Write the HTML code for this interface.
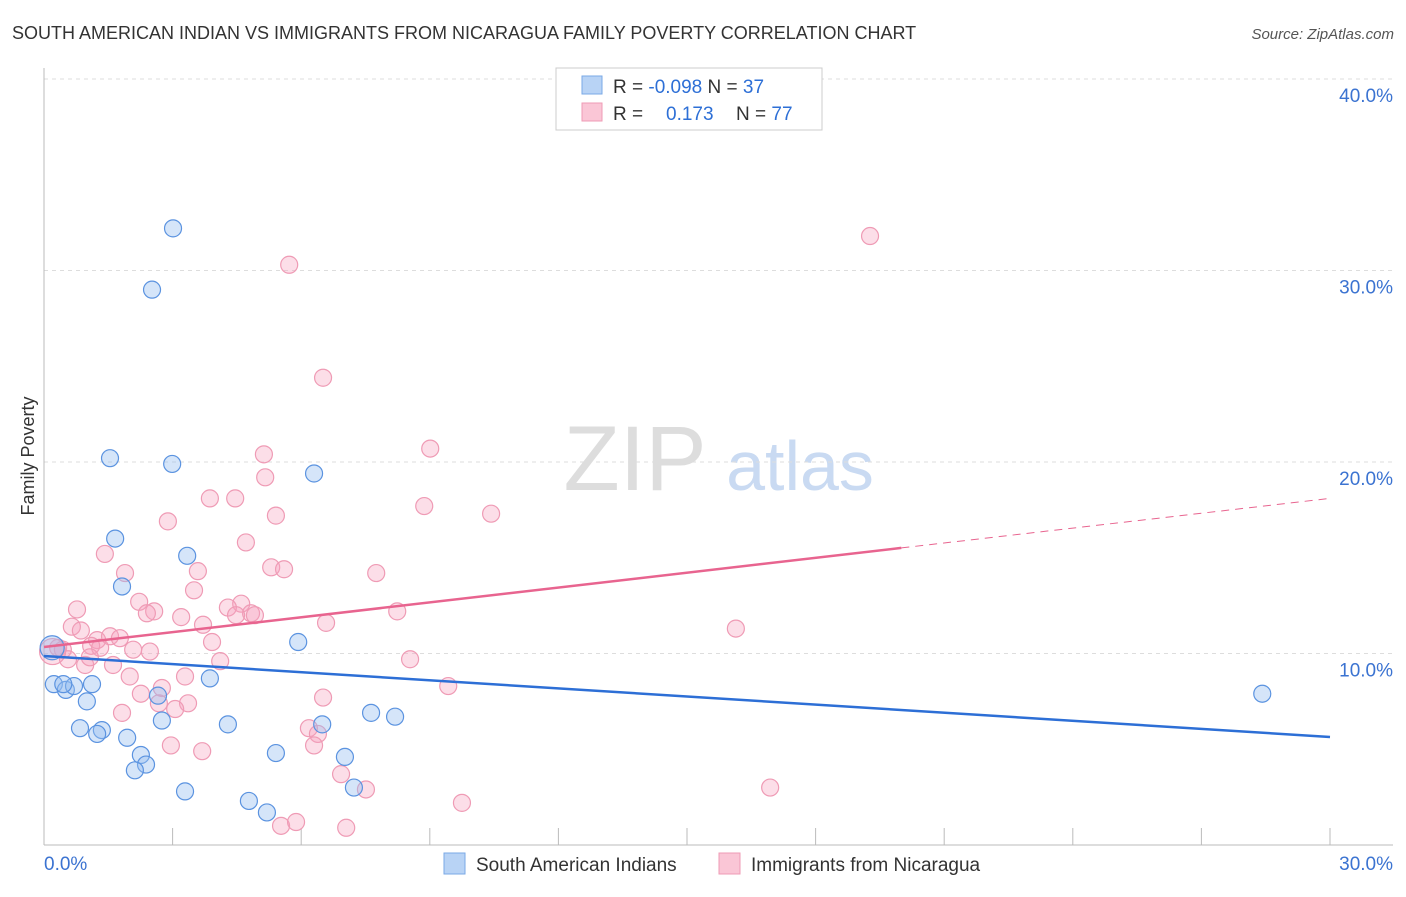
<!DOCTYPE html>
<html><head><meta charset="utf-8"><style>
body{margin:0;background:#fff;font-family:"Liberation Sans",sans-serif;}
svg text{font-family:"Liberation Sans",sans-serif;}
</style></head><body>
<svg id="chart" width="1406" height="892" xmlns="http://www.w3.org/2000/svg">
<text x="12" y="39" font-size="18" fill="#333">SOUTH AMERICAN INDIAN VS IMMIGRANTS FROM NICARAGUA FAMILY POVERTY CORRELATION CHART</text>
<text x="1394" y="39" font-size="15" fill="#555" font-style="italic" text-anchor="end">Source: ZipAtlas.com</text>
<text x="34" y="456" font-size="18" fill="#333" transform="rotate(-90 34 456)" text-anchor="middle">Family Poverty</text>
<g><text x="635" y="490" font-size="92" fill="#ddd" font-family="Liberation Serif" text-anchor="middle">ZIP</text><text x="800" y="490" font-size="70" fill="#c9daf2" text-anchor="middle">atlas</text></g>
<g id="grid"></g><g id="axes"></g><g id="marks"></g>
<g>
<rect x="556" y="68" width="266" height="62" fill="#fff" stroke="#ccc"/>
<rect x="582" y="76" width="20" height="18" fill="#b8d3f5" stroke="#7aa8e6"/>
<rect x="582" y="103" width="20" height="18" fill="#fac6d6" stroke="#ef9bb5"/>
<text x="613" y="93" font-size="19" fill="#333">R = <tspan fill="#2d6fd6">-0.098</tspan>   N = <tspan fill="#2d6fd6">37</tspan></text>
<text x="613" y="120" font-size="19" fill="#333">R =   <tspan fill="#2d6fd6" x="666">0.173</tspan><tspan x="736">N = </tspan><tspan fill="#2d6fd6">77</tspan></text>
</g>
<g>
<rect x="444" y="853" width="21" height="21" fill="#b8d3f5" stroke="#7aa8e6"/>
<text x="476" y="871" font-size="19" fill="#333">South American Indians</text>
<rect x="719" y="853" width="21" height="21" fill="#fac6d6" stroke="#ef9bb5"/>
<text x="751" y="871" font-size="19" fill="#333">Immigrants from Nicaragua</text>
</g>
</svg>
<script>
const yTicks=[10,20,30,40];
const yTickLabels=["10.0%","20.0%","30.0%","40.0%"];
const xLabels=["0.0%","30.0%"];
const blueX=[3.01,2.52,1.54,2.99,6.30,1.66,3.34,1.82,5.93,0.19,0.23,0.51,0.70,1.12,1.0,3.87,2.66,2.75,4.29,6.49,7.63,8.19,0.84,1.35,1.24,1.94,2.26,2.38,2.12,5.41,7.02,3.29,4.78,5.20,7.23,28.42,0.45];
const blueY=[32.2,29.0,20.2,19.9,19.4,16.0,15.1,13.5,10.6,10.3,8.4,8.1,8.3,8.4,7.5,8.7,7.8,6.5,6.3,6.3,6.9,6.7,6.1,6.0,5.8,5.6,4.7,4.2,3.9,4.8,4.6,2.8,2.3,1.7,3.0,7.9,8.4];
const pinkX=[19.27,5.72,6.51,9.01,5.13,5.16,3.87,4.46,8.87,10.43,5.41,2.89,4.71,1.42,5.30,5.60,1.89,3.59,7.75,3.50,2.22,4.60,0.77,2.57,2.40,4.29,4.83,4.92,4.48,8.24,3.20,6.58,0.65,0.86,3.71,16.14,1.24,1.54,1.77,3.92,1.10,1.31,0.33,0.44,2.08,2.47,0.56,0.96,1.07,1.61,4.11,8.54,2.0,3.29,2.75,9.43,2.26,6.51,3.36,3.06,1.82,2.68,6.18,6.39,6.30,2.96,3.69,6.93,7.51,9.75,16.94,5.53,5.88,7.05,0.2];
const pinkY=[31.8,30.3,24.4,20.7,20.4,19.2,18.1,18.1,17.7,17.3,17.2,16.9,15.8,15.2,14.5,14.4,14.2,14.3,14.2,13.3,12.7,12.6,12.3,12.2,12.1,12.4,12.1,12.0,12.0,12.2,11.9,11.6,11.4,11.2,11.5,11.3,10.7,10.9,10.8,10.6,10.4,10.3,10.3,10.2,10.2,10.1,9.7,9.4,9.8,9.4,9.6,9.7,8.8,8.8,8.2,8.3,7.9,7.7,7.4,7.1,6.9,7.4,6.1,5.8,5.2,5.2,4.9,3.7,2.9,2.2,3.0,1.0,1.2,0.9,10.1];
const blueTrend=[9.87,5.64];
const pinkTrend=[10.34,18.1];
const X0=44,X1=1330,Y0=845,PY=19.15;
const sx=v=>X0+(v/30)*(X1-X0);
const sy=v=>Y0-v*PY;
const NS="http://www.w3.org/2000/svg";
function mk(tag,attrs,parent){const e=document.createElementNS(NS,tag);for(const k in attrs)e.setAttribute(k,attrs[k]);document.getElementById(parent).appendChild(e);return e;}
yTicks.forEach((t,i)=>{
 const l=mk('line',{x1:X0,x2:1393,y1:sy(t),y2:sy(t),stroke:'#ddd','stroke-dasharray':'4 4'},'grid');
 
 
 const tx=mk('text',{x:1393,y:sy(t)+23,'font-size':19,fill:'#3b73d1','text-anchor':'end'},'grid');
 tx.textContent=yTickLabels[i];
 
 
});
const ax=mk('line',{x1:X0,x2:X0,y1:68,y2:Y0,stroke:'#bbb'},'axes');


const bx=mk('line',{x1:X0,x2:1393,y1:Y0,y2:Y0,stroke:'#bbb'},'axes');


for(let i=0;i<=10;i++){
 const t=mk('line',{x1:sx(i*3),x2:sx(i*3),y1:Y0,y2:828,stroke:'#bbb'},'axes');
 
 
}
[[0,44,'start'],[30,1393,'end']].forEach((d,i)=>{
 const t=mk('text',{x:d[1],y:870,'font-size':19,fill:'#3b73d1','text-anchor':d[2]},'axes');
 t.textContent=xLabels[i];
 
 
});
pinkX.forEach((x,i)=>{
 const c=mk('circle',{cx:sx(x),cy:sy(pinkY[i]),r:i==pinkX.length-1?13:8.5,fill:'rgba(245,160,190,0.35)',stroke:'#ef9bb5','stroke-width':1.2},'marks');
 
 
});
blueX.forEach((x,i)=>{
 const c=mk('circle',{cx:sx(x),cy:sy(blueY[i]),r:i==9?12:8.5,fill:'rgba(150,190,240,0.4)',stroke:'#5b93e0','stroke-width':1.2},'marks');
 
 
});
const bl=mk('line',{x1:sx(0),y1:sy(blueTrend[0]),x2:sx(30),y2:sy(blueTrend[1]),stroke:'#2d6fd6','stroke-width':2.5},'marks');


const pmid=20;const pyMid=pinkTrend[0]+(pinkTrend[1]-pinkTrend[0])*pmid/30;
const pl=mk('line',{x1:sx(0),y1:sy(pinkTrend[0]),x2:sx(pmid),y2:sy(pyMid),stroke:'#e8648f','stroke-width':2.5},'marks');


const pd=mk('line',{x1:sx(pmid),y1:sy(pyMid),x2:sx(30),y2:sy(pinkTrend[1]),stroke:'#e8648f','stroke-width':1,'stroke-dasharray':'8 6'},'marks');


</script>
</body></html>
